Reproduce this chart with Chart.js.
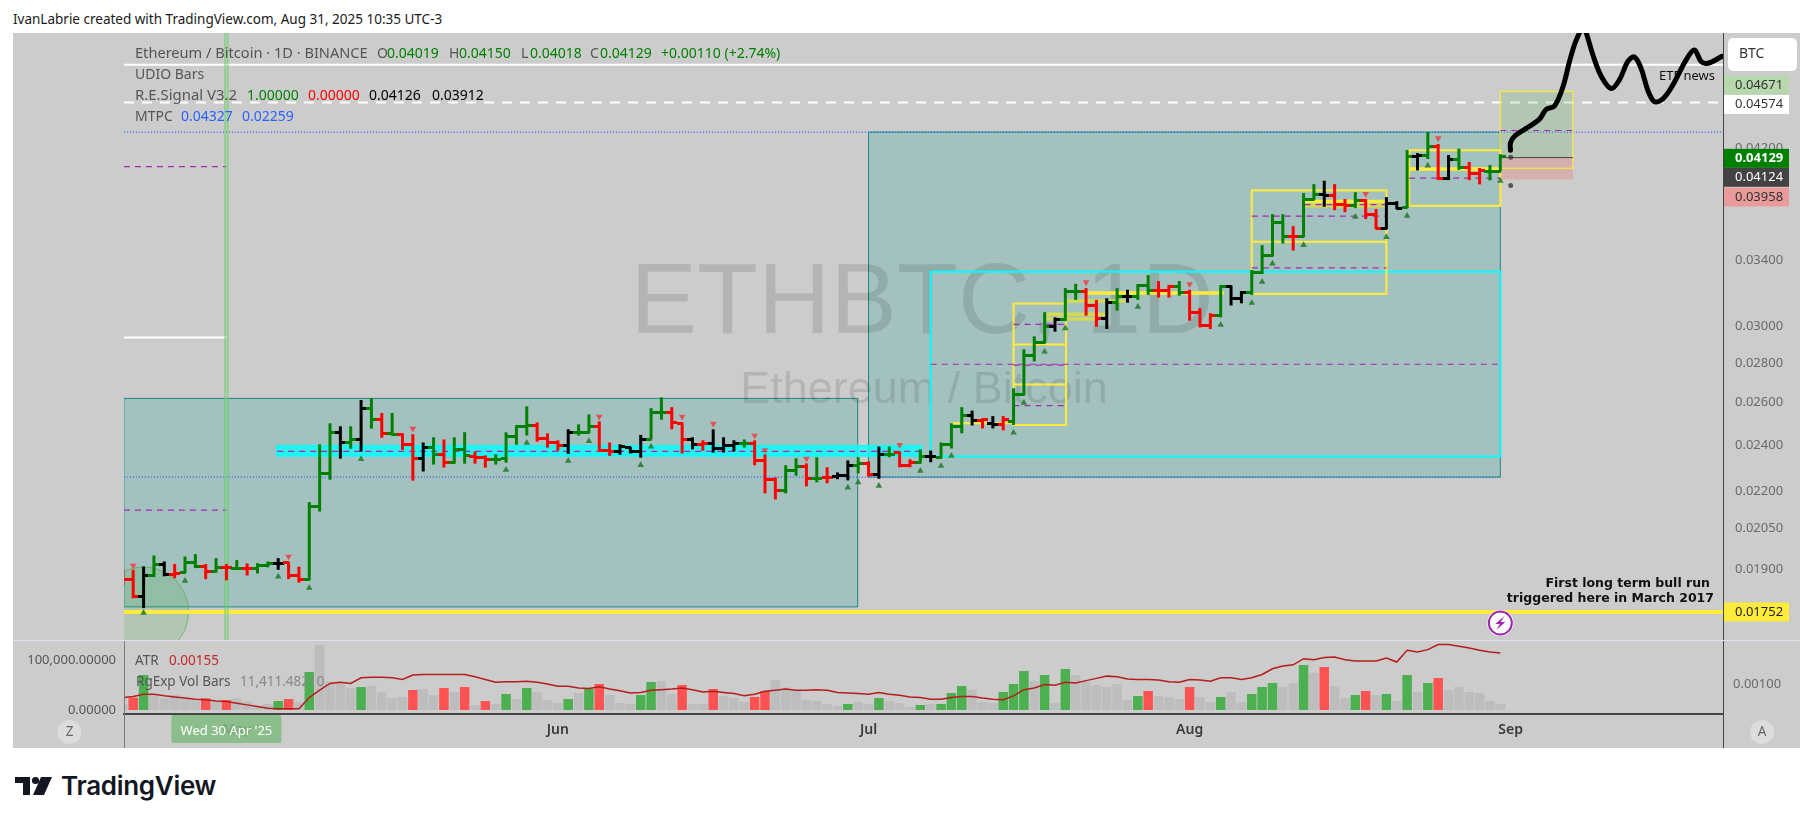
<!DOCTYPE html>
<html>
<head>
<meta charset="utf-8">
<title>ETHBTC 1D</title>
<script src="https://cdn.jsdelivr.net/npm/chart.js@4"></script>
<style>
  html, body { margin: 0; background: #fff; }
  body { position: relative; width: 1813px; height: 824px; overflow: hidden; font-family: "Noto Sans", sans-serif; }
  #caption { position: absolute; left: 13px; top: 10px; font-size: 13.5px; line-height: 18px; color: #1a1a1a; white-space: nowrap; }
  #frame { position: absolute; left: 13px; top: 33px; width: 1787px; height: 715px; background: #cccccc; }
  #priceChart { position: absolute; left: 13px; top: 33px; }
  #volChart { position: absolute; left: 13px; top: 640px; }
  #logo { position: absolute; left: 15px; top: 776px; }
  #brand { position: absolute; left: 61px; top: 770px; font-family: Inter, sans-serif; font-weight: 600; font-size: 26px; line-height: 32px; color: #131722; letter-spacing: -0.3px; }
</style>
</head>
<body>
<div id="caption">IvanLabrie created with TradingView.com, Aug 31, 2025 10:35 UTC-3</div>
<div id="frame"></div>
<canvas id="priceChart" width="1787" height="607"></canvas>
<canvas id="volChart" width="1787" height="108"></canvas>
<svg id="logo" width="38" height="20" viewBox="0 0 38 20"><path d="M0 1h15v18H8V7H0z" fill="#131722"/><circle cx="20.5" cy="4.5" r="3.6" fill="#131722"/><path d="M26 1h11l-8 18H18z" fill="#131722"/></svg>
<div id="brand">TradingView</div>

<script>
// daily bars, day 0 = Apr 20 2025
var barOpen = [
  .01874,.01862,.01804,.01877,.01915,.01881,.01888,.01922,.01909,.01892,
  .01905,.01903,.01903,.01900,.01911,.01919,.01922,.01875,.01864,.02136,
  .02275,.02459,.02411,.02425,.02572,.02518,.02453,.02449,.02400,.02340,
  .02389,.02359,.02323,.02380,.02349,.02345,.02336,.02340,.02440,.02486,
  .02490,.02430,.02411,.02398,.02458,.02458,.02486,.02375,.02371,.02388,
  .02371,.02425,.02552,.02552,.02500,.02425,.02403,.02407,.02384,.02398,
  .02407,.02407,.02331,.02250,.02204,.02288,.02305,.02252,.02258,.02262,
  .02266,.02309,.02318,.02271,.02358,.02366,.02309,.02323,.02349,.02345,
  .02403,.02486,.02537,.02514,.02500,.02495,.02510,.02640,.02838,.02912,
  .02999,.03041,.03202,.03202,.03119,.03047,.03136,.03172,.03172,.03241,
  .03213,.03213,.03237,.03196,.03080,.03005,.03062,.03237,.03160,.03196,
  .03322,.03431,.03652,.03556,.03556,.03814,.03845,.03838,.03773,.03766,
  .03807,.03707,.03611,.03785,.03757,.04129,.04137,.04208,.03966,.04113,
  .04044,.04006,.04019,.04019];
var barHigh = [
  .01897,.01897,.01909,.01949,.01927,.01918,.01945,.01954,.01918,.01939,
  .01918,.01932,.01920,.01921,.01927,.01939,.01924,.01908,.02155,.02403,
  .02500,.02486,.02486,.02612,.02620,.02549,.02549,.02453,.02449,.02411,
  .02435,.02425,.02435,.02458,.02371,.02353,.02358,.02458,.02490,.02581,
  .02504,.02453,.02421,.02472,.02495,.02542,.02509,.02411,.02403,.02392,
  .02446,.02572,.02625,.02577,.02504,.02435,.02421,.02472,.02435,.02421,
  .02425,.02421,.02358,.02258,.02310,.02340,.02318,.02345,.02301,.02279,
  .02331,.02345,.02327,.02393,.02393,.02371,.02336,.02380,.02375,.02411,
  .02500,.02577,.02560,.02523,.02534,.02534,.02670,.02874,.02945,.03082,
  .03052,.03225,.03251,.03225,.03154,.03164,.03225,.03215,.03249,.03305,
  .03268,.03245,.03268,.03215,.03105,.03076,.03243,.03241,.03207,.03337,
  .03497,.03707,.03707,.03624,.03857,.03923,.03948,.03923,.03814,.03864,
  .03814,.03743,.03828,.03799,.04183,.04160,.04328,.04231,.04144,.04194,
  .04090,.04044,.04067,.04150];
var barLow = [
  .01839,.01798,.01765,.01871,.01874,.01867,.01885,.01903,.01864,.01888,
  .01860,.01899,.01877,.01884,.01906,.01897,.01864,.01852,.01860,.02117,
  .02248,.02339,.02383,.02370,.02475,.02433,.02443,.02378,.02244,.02283,
  .02313,.02300,.02317,.02317,.02317,.02300,.02313,.02321,.02401,.02443,
  .02415,.02388,.02374,.02360,.02443,.02453,.02371,.02351,.02356,.02362,
  .02343,.02425,.02517,.02472,.02362,.02380,.02374,.02366,.02366,.02371,
  .02388,.02310,.02191,.02166,.02191,.02265,.02220,.02237,.02233,.02250,
  .02245,.02275,.02261,.02252,.02345,.02301,.02301,.02318,.02323,.02340,
  .02384,.02453,.02490,.02476,.02476,.02467,.02492,.02635,.02809,.02906,
  .02971,.03031,.03154,.03062,.02999,.02986,.03091,.03138,.03154,.03184,
  .03168,.03168,.03180,.03033,.02995,.02986,.03052,.03121,.03134,.03184,
  .03312,.03422,.03508,.03461,.03550,.03807,.03759,.03735,.03721,.03750,
  .03673,.03604,.03604,.03743,.03750,.04026,.04113,.03953,.03953,.04029,
  .03953,.03921,.03951,.04018];
var barClose = [
  .01862,.01804,.01877,.01915,.01881,.01885,.01922,.01909,.01892,.01905,
  .01905,.01903,.01900,.01911,.01919,.01919,.01875,.01864,.02136,.02275,
  .02459,.02411,.02425,.02572,.02518,.02453,.02449,.02400,.02340,.02389,
  .02359,.02323,.02380,.02353,.02345,.02336,.02336,.02440,.02486,.02490,
  .02430,.02411,.02398,.02458,.02458,.02486,.02375,.02371,.02392,.02371,
  .02425,.02552,.02552,.02504,.02425,.02403,.02407,.02384,.02398,.02407,
  .02407,.02331,.02250,.02204,.02288,.02305,.02252,.02252,.02258,.02266,
  .02309,.02318,.02271,.02358,.02358,.02309,.02323,.02349,.02349,.02403,
  .02486,.02537,.02514,.02518,.02495,.02518,.02640,.02838,.02912,.02999,
  .03041,.03202,.03202,.03119,.03047,.03136,.03172,.03172,.03241,.03213,
  .03213,.03237,.03196,.03080,.03005,.03062,.03237,.03160,.03196,.03322,
  .03431,.03652,.03556,.03556,.03814,.03845,.03838,.03773,.03766,.03807,
  .03707,.03611,.03785,.03750,.04129,.04137,.04208,.03966,.04113,.04044,
  .04006,.04026,.04019,.04129];
var barTone = ('rrkgkrggrg rgrggkrrgg gkgkgrgrrk grggrrgggg rrrkggrrkk kggrrkrkkk ' +
  'grrrggrgrk kgrkgrrgkg ggkrkrgggg kggrrkgkgg rrgrrrgkkg gggrggkrrg rrkkgkgrkg rrgg').replace(/ /g, '').split('');

var upMarkDays = [2,6,15,18,23,37,39,43,45,50,51,70,71,73,77,79,80,86,87,89,91,98,106,109,110,111,114,119,122,124,126,133];
var upMarkPrices = [.01749,.01858,.01873,.01834,.02337,.02290,.02410,.02329,.02418,.02311,.02392,.02215,.02237,.02222,.02286,.02307,.02351,.02456,.02598,.02861,.02990,.03113,.03009,.03136,.03263,.03377,.03497,.03688,.03550,.03696,.04062,.03948];
var downMarkDays = [1,16,28,46,54,57,61,62,66,75,93,103,120,127];
var downMarkPrices = [.01912,.01945,.02475,.02531,.02531,.02498,.02443,.02377,.02339,.02400,.03261,.03249,.03852,.04277];

// hand drawn projection after the last bar
var forecastDays = [133.98,133.98,134.37,135.34,136.78,137.43,138.23,139.04,139.68,140.16,140.64,140.97,141.29,141.93,142.74,143.70,144.51,145.31,145.95,146.60,147.24,147.88,148.69,149.65,150.94,151.74,152.39,153.03,154.42];
var forecastPrices = [.04181,.04239,.04293,.04349,.04434,.04516,.04545,.04710,.04943,.05101,.05217,.05281,.05217,.05006,.04807,.04697,.04776,.04943,.04985,.04877,.04682,.04582,.04606,.04727,.04958,.05051,.04943,.04926,.04991];

var signalDotDay = 134;
var signalDotPrices = [.04126,.03912];

// lower pane
var volumes = [
  12000,24700,70000,30000,23300,30000,23300,18700,23300,16700,
  20000,23300,16700,6700,12000,18000,22000,16700,76000,130000,
  56700,53400,43400,46000,48700,36700,24000,26000,40000,42000,
  30000,44000,36000,46000,10000,18000,12000,32000,22000,44000,
  36000,20000,14000,22000,34000,42000,52000,30000,14000,12000,
  30000,56000,58000,32000,50000,12000,12000,42000,28000,24000,
  16000,26000,38000,60000,45400,40000,20000,18000,12000,8000,
  12000,16000,12000,24000,18000,14000,6000,10000,12000,12000,
  34000,48000,40000,16000,14000,36000,52000,78000,58000,70000,
  14000,82000,70000,56000,50000,46000,52000,20000,28000,38000,
  28000,26000,22000,46000,26000,16000,26000,36000,16000,32000,
  46000,54000,46000,54000,90000,74000,86000,48000,24000,30000,
  38000,30000,32000,18000,70000,36000,54000,64000,40000,46000,
  36000,34000,18000,12000];
var volUpDays = [2,15,18,23,37,39,43,45,50,51,70,73,77,79,80,81,85,86,87,89,91,98,106,109,110,111,114,119,122,124,126];
var volDownDays = [1,8,10,16,28,31,33,35,46,54,57,61,62,99,103,116,120,127];
var atrValues = [
  .00076,.00078,.00082,.00082,.00079,.00077,.00075,.00073,.00072,.00070,
  .00069,.00066,.00063,.00060,.00057,.00056,.00056,.00056,.00076,.00089,
  .00101,.00103,.00101,.00111,.00112,.00112,.00111,.00108,.00116,.00117,
  .00117,.00117,.00117,.00117,.00113,.00108,.00103,.00104,.00104,.00105,
  .00103,.00100,.00096,.00096,.00093,.00092,.00095,.00091,.00088,.00084,
  .00085,.00089,.00090,.00091,.00093,.00090,.00086,.00087,.00085,.00083,
  .00079,.00082,.00087,.00089,.00091,.00089,.00089,.00090,.00089,.00085,
  .00084,.00083,.00082,.00085,.00082,.00080,.00077,.00076,.00073,.00073,
  .00076,.00078,.00078,.00075,.00073,.00072,.00079,.00090,.00093,.00099,
  .00098,.00103,.00102,.00106,.00110,.00114,.00113,.00109,.00108,.00108,
  .00107,.00104,.00103,.00108,.00107,.00105,.00111,.00111,.00108,.00111,
  .00117,.00127,.00132,.00134,.00145,.00143,.00147,.00148,.00143,.00141,
  .00141,.00141,.00146,.00139,.00160,.00157,.00161,.00170,.00170,.00167,
  .00164,.00160,.00157,.00155];

// axes
var priceTicks = [.042,.034,.030,.028,.026,.024,.022,.0205,.019];
var monthDays = [11,42,72,103,134];
var monthLabels = ['May','Jun','Jul','Aug','Sep'];
var volTicks = [0,100000];
var atrTicks = [.001];

// drawn objects, all as [day, day, price, price] or [day, day, price]
var tealBoxes = [[0.1,70.95,.0262,.01769],[72,133,.04327,.02259]];
var cyanBox = [78,133,.03326,.02349];
var cyanBand = [14.9,77.1,.02395,.02352];
var yellowBoxes = [[86,91.07,.03132,.02492],[109,122,.03877,.03190],[124.2,133,.04181,.03766]];
var yellowThin = [[86,91.07,.02900],[86,91.07,.02689],[109,122,.03519],[80,86,.02500]];
var yellowThick = [[93,106.3,.03196],[114.1,122,.03797],[124.2,133,.04036]];
var oliveBands = [[91.1,96.8,.03148],[89.2,94.9,.03070],[89.2,94.1,.03043],[114.1,122,.03766]];
var purpleDashes = [[0.1,10,.04055],[0.1,10,.02123],[14.9,77.1,.02371],[78,133,.02794],[86,91.07,.03012],[86,91.07,.02790],[86,91.07,.02585],
  [109,122,.03693],[109,122,.03350],[114.1,122,.03775],[124.2,133,.03968],[133,140,.04340]];
var blueDotted = [[0.1,154.5,.04327],[0.1,133,.02259]];
var whiteSolid = [[0.1,154.5,.04912],[0.1,10,.02938]];
var whiteDashed = [.04574];
var supportLine = .01752;
var positionDays = [133,140];
var positionPrices = {target: .04671, entry: .04124, stop: .03958};
var positionEdge = .04041;
var selectedDay = 10;
var circleAt = [2,.01752];
var eventAt = [133,.01716];

var badgeValues = ['0.04671','0.04574','0.04129','0.04124','0.03958','0.01752'];
var badgePrices = [.04671,.04574,.04129,.04124,.03958,.01752];

var uiFont = '"Noto Sans", sans-serif';
var GREEN = '#008000', RED = '#ff0000', BLACK = '#000000';

function rule(chart, x0, x1, price, color, width, dash) {
  var ctx = chart.ctx, sx = chart.scales.x, y = chart.scales.y.getPixelForValue(price);
  ctx.save();
  ctx.strokeStyle = color;
  ctx.lineWidth = width;
  ctx.setLineDash(dash || []);
  ctx.beginPath();
  ctx.moveTo(sx.getPixelForValue(x0), y);
  ctx.lineTo(sx.getPixelForValue(x1), y);
  ctx.stroke();
  ctx.restore();
}

function box(chart, b, fill, stroke, width) {
  var ctx = chart.ctx, sx = chart.scales.x, sy = chart.scales.y;
  var left = sx.getPixelForValue(b[0]), right = sx.getPixelForValue(b[1]);
  var top = sy.getPixelForValue(b[2]), bottom = sy.getPixelForValue(b[3]);
  if (fill) {
    ctx.fillStyle = fill;
    ctx.fillRect(left, top, right - left, bottom - top);
  }
  if (stroke) {
    ctx.strokeStyle = stroke;
    ctx.lineWidth = width;
    ctx.strokeRect(left, top, right - left, bottom - top);
  }
}

function text(ctx, str, x, y, color, font, align) {
  ctx.fillStyle = color;
  ctx.font = font;
  ctx.textAlign = align || 'left';
  ctx.textBaseline = 'middle';
  ctx.fillText(str, x, y);
}

// chart.js leaves room for half a tick label above and below, we do not want that
function noLabelPadding(s) {
  s.paddingTop = 0;
  s.paddingBottom = 0;
  s.paddingLeft = 0;
  s.paddingRight = 0;
}

// everything that sits under the bars
var paneDrawings = {
  id: 'paneDrawings',
  beforeDatasetsDraw: function(chart) {
    var ctx = chart.ctx, area = chart.chartArea, sx = chart.scales.x, sy = chart.scales.y;
    var maxDay = sx.max;
    ctx.save();
    ctx.beginPath();
    ctx.rect(area.left, area.top, area.width, area.height);
    ctx.clip();

    tealBoxes.forEach(function(b) { box(chart, b, 'rgba(0,150,136,0.2)', '#1b8a80', 1); });

    text(ctx, 'ETHBTC, 1D', 909, 272, 'rgba(0,0,0,0.115)', '100px "Liberation Sans"', 'center');
    text(ctx, 'Ethereum / Bitcoin', 911, 358, 'rgba(0,0,0,0.115)', '45px "Liberation Sans"', 'center');

    // circle marker on the support line
    ctx.beginPath();
    ctx.arc(sx.getPixelForValue(circleAt[0]), sy.getPixelForValue(circleAt[1]), 45, 0, Math.PI * 2);
    ctx.fillStyle = 'rgba(76,175,80,0.2)';
    ctx.fill();
    ctx.strokeStyle = 'rgba(76,175,80,0.7)';
    ctx.lineWidth = 1;
    ctx.stroke();

    box(chart, cyanBand, 'rgba(0,255,255,0.72)', '#00ffff', 2);
    box(chart, cyanBox, null, '#00ffff', 2);

    whiteSolid.forEach(function(l) { rule(chart, l[0], l[1], l[2], '#ffffff', 2); });
    whiteDashed.forEach(function(p) { rule(chart, 0.1, maxDay, p, '#ffffff', 2, [10, 8]); });
    blueDotted.forEach(function(l) { rule(chart, l[0], l[1], l[2], '#2962ff', 1.2, [1, 2]); });
    rule(chart, 0.1, maxDay, supportLine, '#ffeb3b', 4);

    // long position tool
    box(chart, [positionDays[0], positionDays[1], positionPrices.target, positionPrices.entry], 'rgba(76,175,80,0.2)');
    box(chart, [positionDays[0], positionDays[1], positionPrices.entry, positionPrices.stop], 'rgba(244,67,54,0.2)');
    box(chart, [positionDays[0], positionDays[1], positionPrices.target, positionEdge], null, 'rgba(255,235,59,0.8)', 1.5);
    rule(chart, positionDays[0], positionDays[1], positionPrices.entry, '#444444', 1);

    yellowBoxes.forEach(function(b) { box(chart, b, null, '#ffeb3b', 2); });
    yellowThin.forEach(function(l) { rule(chart, l[0], l[1], l[2], '#ffeb3b', 2); });
    oliveBands.forEach(function(l) { rule(chart, l[0], l[1], l[2], 'rgba(225,225,50,0.75)', 3.5); });
    yellowThick.forEach(function(l) { rule(chart, l[0], l[1], l[2], '#ffeb3b', 3.5); });
    purpleDashes.forEach(function(l) { rule(chart, l[0], l[1], l[2], '#a626b5', 1.2, [6, 5]); });

    // selected day highlight
    var hx = sx.getPixelForValue(selectedDay);
    ctx.fillStyle = 'rgba(120,225,120,0.45)';
    ctx.fillRect(hx - 2, area.top, 4, area.height);
    ctx.fillStyle = 'rgba(76,175,80,0.4)';
    ctx.fillRect(hx - 2, area.top, 1, area.height);
    ctx.fillRect(hx + 1, area.top, 1, area.height);

    text(ctx, 'ETF news', 1687 - 13, 76 - 33, '#111111', '13px ' + uiFont, 'center');
    ctx.restore();
  },
  afterDatasetsDraw: function(chart) {
    var ctx = chart.ctx, sx = chart.scales.x, sy = chart.scales.y, area = chart.chartArea;
    ctx.save();
    ctx.translate(-13, -33);  // the coordinates below are page coordinates

    // top left legend
    var small = '14px ' + uiFont, grey = '#555555';
    text(ctx, 'Ethereum / Bitcoin \u00b7 1D \u00b7 BINANCE', 135, 54, grey, '14.6px ' + uiFont);
    text(ctx, 'O', 377, 54, grey, small);
    text(ctx, '0.04019', 387, 54, GREEN, small);
    text(ctx, 'H', 449, 54, grey, small);
    text(ctx, '0.04150', 459, 54, GREEN, small);
    text(ctx, 'L', 521, 54, grey, small);
    text(ctx, '0.04018', 530, 54, GREEN, small);
    text(ctx, 'C', 590, 54, grey, small);
    text(ctx, '0.04129', 600, 54, GREEN, small);
    text(ctx, '+0.00110 (+2.74%)', 661, 54, GREEN, small);
    text(ctx, 'UDIO Bars', 135, 75, grey, small);
    text(ctx, 'R.E.Signal V3.2', 135, 96, grey, '14.9px ' + uiFont);
    text(ctx, '1.00000', 247, 96, GREEN, small);
    text(ctx, '0.00000', 308, 96, RED, small);
    text(ctx, '0.04126', 369, 96, BLACK, small);
    text(ctx, '0.03912', 432, 96, BLACK, small);
    text(ctx, 'MTPC', 135, 117, grey, small);
    text(ctx, '0.04327', 181, 117, '#2962ff', small);
    text(ctx, '0.02259', 242, 117, '#2962ff', small);

    // note over the support line
    var bold = 'bold 12.5px "DejaVu Sans"';
    text(ctx, 'First long term bull run', 1710, 584, '#111111', bold, 'right');
    text(ctx, 'triggered here in March 2017', 1714, 599, '#111111', bold, 'right');
    ctx.restore();

    // event badge
    var ex = sx.getPixelForValue(eventAt[0]), ey = sy.getPixelForValue(eventAt[1]);
    ctx.beginPath();
    ctx.arc(ex, ey, 13, 0, Math.PI * 2);
    ctx.fillStyle = '#ffffff';
    ctx.fill();
    ctx.beginPath();
    ctx.arc(ex, ey, 11.5, 0, Math.PI * 2);
    ctx.strokeStyle = '#9c27b0';
    ctx.lineWidth = 2;
    ctx.stroke();
    ctx.beginPath();
    ctx.moveTo(ex + 4, ey - 7);
    ctx.lineTo(ex - 5, ey + 1);
    ctx.lineTo(ex - 0.5, ey + 1);
    ctx.lineTo(ex - 4, ey + 7);
    ctx.lineTo(ex + 5, ey - 1);
    ctx.lineTo(ex + 0.5, ey - 1);
    ctx.closePath();
    ctx.fillStyle = '#9c27b0';
    ctx.fill();

    // price labels on the scale, pushed apart like the original scale does
    var fills = ['#b7d8ad', '#ffffff', '#008000', '#434343', '#e99b9b', '#ffeb3b'];
    var inks = ['#333333', '#333333', '#ffffff', '#ffffff', '#333333', '#222222'];
    var nudges = [-6.4, 1.8, 1.4, 19.7, 17.6, 0];
    badgePrices.forEach(function(p, i) {
      var y = sy.getPixelForValue(p) + nudges[i];
      ctx.fillStyle = fills[i];
      ctx.fillRect(area.right + 1, y - 9.5, 65, 19);
      text(ctx, badgeValues[i], area.right + 12, y, inks[i], (i === 2 ? 'bold ' : '') + '13px ' + uiFont);
    });

    // currency button
    ctx.fillStyle = '#ffffff';
    ctx.beginPath();
    ctx.roundRect(area.right + 5, 5, 69, 33, 5);
    ctx.fill();
    text(ctx, 'BTC', area.right + 16, 21, '#333333', '14px ' + uiFont);
  }
};

var volDecorations = {
  id: 'volDecorations',
  afterDraw: function(chart) {
    var ctx = chart.ctx, area = chart.chartArea, h = chart.height;
    // scale edges run through the date row
    ctx.fillStyle = '#7a7a7a';
    ctx.fillRect(area.left, 0, 1, h);
    ctx.fillStyle = '#444444';
    ctx.fillRect(area.right, 0, 1, h);
    ctx.fillStyle = '#e2e2f0';
    ctx.fillRect(0, 0, chart.width, 1);

    var sx = chart.scales.x, hx = sx.getPixelForValue(selectedDay);
    ctx.fillStyle = 'rgba(128,188,128,0.86)';
    ctx.beginPath();
    ctx.roundRect(hx - 55, 75, 110, 28, 2);
    ctx.fill();
    text(ctx, "Wed 30 Apr '25", hx, 91, '#ffffff', '13px ' + uiFont, 'center');

    var font = '13.5px ' + uiFont;
    text(ctx, 'ATR', 122, 21, '#555555', font);
    text(ctx, '0.00155', 156, 21, '#c62828', font);
    text(ctx, 'RgExp Vol Bars', 123, 42, '#555555', font);
    text(ctx, '11,411.48210', 227, 42, '#888888', font);

    ctx.fillStyle = '#dcdcdc';
    ctx.beginPath();
    ctx.arc(56.5, 92, 12, 0, Math.PI * 2);
    ctx.arc(1749, 92, 12, 0, Math.PI * 2);
    ctx.fill();
    text(ctx, 'Z', 56.5, 92, '#666666', font, 'center');
    text(ctx, 'A', 1749, 92, '#666666', font, 'center');
  }
};

// open and close ticks are small one sided point images
function tickImage(color, side) {
  var c = document.createElement('canvas');
  c.width = 11;
  c.height = 3;
  var g = c.getContext('2d');
  g.fillStyle = color;
  if (side === 'left') g.fillRect(0, 0, 6, 3);
  else g.fillRect(5, 0, 6, 3);
  return c;
}

var tones = {g: GREEN, r: RED, k: BLACK};
var openTicks = {}, closeTicks = {};
Object.keys(tones).forEach(function(k) {
  openTicks[k] = tickImage(tones[k], 'left');
  closeTicks[k] = tickImage(tones[k], 'right');
});

var days = barClose.map(function(v, i) { return i; });

new Chart(document.getElementById('priceChart'), {
  type: 'bar',
  plugins: [paneDrawings],
  data: {
    datasets: [
      {
        type: 'bar', order: 4,
        data: days.map(function(d) { return {x: d, y: [barLow[d], barHigh[d]]}; }),
        backgroundColor: barTone.map(function(t) { return tones[t]; }),
        barThickness: 3, inflateAmount: 0, borderWidth: 0
      },
      {
        type: 'scatter', order: 3,
        data: days.map(function(d) { return {x: d, y: barOpen[d]}; }),
        pointStyle: function(c) { return openTicks[barTone[c.dataIndex]]; },
        pointRadius: 5
      },
      {
        type: 'scatter', order: 3,
        data: days.map(function(d) { return {x: d, y: barClose[d]}; }),
        pointStyle: function(c) { return closeTicks[barTone[c.dataIndex]]; },
        pointRadius: 5
      },
      {
        type: 'scatter', order: 2,
        data: upMarkDays.map(function(d, i) { return {x: d, y: upMarkPrices[i]}; }),
        pointStyle: 'triangle', pointRadius: 3.8, pointBorderWidth: 0,
        pointBackgroundColor: 'rgba(40,125,50,0.9)'
      },
      {
        type: 'scatter', order: 2,
        data: downMarkDays.map(function(d, i) { return {x: d, y: downMarkPrices[i]}; }),
        pointStyle: 'triangle', pointRotation: 180, pointRadius: 3.8, pointBorderWidth: 0,
        pointBackgroundColor: 'rgba(239,60,60,0.85)'
      },
      {
        type: 'line', order: 0,
        data: forecastDays.map(function(d, i) { return {x: d, y: forecastPrices[i]}; }),
        borderColor: '#000000', borderWidth: 5, borderCapStyle: 'round', borderJoinStyle: 'round',
        tension: 0.35, pointRadius: 0, fill: false
      },
      {
        type: 'scatter', order: 1,
        data: signalDotPrices.map(function(p) { return {x: signalDotDay, y: p}; }),
        pointRadius: 2.5, pointBorderWidth: 0, pointBackgroundColor: 'rgba(60,60,60,0.8)'
      }
    ]
  },
  options: {
    responsive: false,
    animation: false,
    events: [],
    layout: {autoPadding: false, padding: {left: 111, right: 0, top: 0, bottom: 0}},
    plugins: {legend: {display: false}, tooltip: {enabled: false}},
    scales: {
      x: {type: 'linear', display: false, offset: false, min: 0.11, max: 154.5, grid: {display: false}},
      y: {
        type: 'logarithmic', position: 'right', min: .01662, max: .05215, bounds: 'data',
        afterFit: function(s) { s.width = 77; noLabelPadding(s); },
        afterBuildTicks: function(s) { s.ticks = priceTicks.map(function(v) { return {value: v}; }); },
        grid: {display: false, drawTicks: false},
        border: {color: '#444444'},
        ticks: {
          autoSkip: false, padding: 12, color: '#6a6a6a',
          font: {family: uiFont, size: 13},
          callback: function(v) { return Number(v).toFixed(5); }
        }
      }
    }
  }
});

new Chart(document.getElementById('volChart'), {
  type: 'bar',
  plugins: [volDecorations],
  data: {
    datasets: [
      {
        type: 'bar', order: 2, yAxisID: 'yVol',
        data: days.map(function(d) { return {x: d, y: volumes[d]}; }),
        backgroundColor: days.map(function(d) {
          if (volUpDays.indexOf(d) >= 0) return '#4caf50';
          if (volDownDays.indexOf(d) >= 0) return '#ff5252';
          return '#bdbdbd';
        }),
        barThickness: 9.5, inflateAmount: 0, borderWidth: 0
      },
      {
        type: 'line', order: 1, yAxisID: 'yAtr',
        data: days.map(function(d) { return {x: d, y: atrValues[d]}; }),
        borderColor: '#b71c1c', borderWidth: 1.5, pointRadius: 0, tension: 0, fill: false
      }
    ]
  },
  options: {
    responsive: false,
    animation: false,
    events: [],
    layout: {autoPadding: false, padding: 0},
    plugins: {legend: {display: false}, tooltip: {enabled: false}},
    scales: {
      x: {
        type: 'linear', offset: false, min: 0.11, max: 154.5,
        afterFit: function(s) { s.height = 34; noLabelPadding(s); },
        afterBuildTicks: function(s) { s.ticks = monthDays.map(function(v) { return {value: v}; }); },
        grid: {display: false, drawTicks: false},
        border: {color: '#444444', width: 2},
        ticks: {
          autoSkip: false, maxRotation: 0, padding: 8, color: '#3a3a3a',
          font: {family: uiFont, size: 14, weight: '600'},
          callback: function(v) { return monthLabels[monthDays.indexOf(v)]; }
        }
      },
      yVol: {
        type: 'linear', position: 'left', min: -8000, max: 140000,
        afterFit: function(s) { s.width = 111; noLabelPadding(s); },
        afterBuildTicks: function(s) { s.ticks = volTicks.map(function(v) { return {value: v}; }); },
        grid: {display: false, drawTicks: false},
        border: {display: false},
        ticks: {
          autoSkip: false, padding: 8, color: '#555555',
          font: {family: uiFont, size: 13},
          callback: function(v) { return v.toLocaleString('en-US', {minimumFractionDigits: 5}); }
        }
      },
      yAtr: {
        type: 'linear', position: 'right', min: .000468, max: .001781,
        afterFit: function(s) { s.width = 77; noLabelPadding(s); },
        afterBuildTicks: function(s) { s.ticks = atrTicks.map(function(v) { return {value: v}; }); },
        grid: {display: false, drawTicks: false},
        border: {display: false},
        ticks: {
          autoSkip: false, padding: 10, color: '#6a6a6a',
          font: {family: uiFont, size: 13},
          callback: function(v) { return Number(v).toFixed(5); }
        }
      }
    }
  }
});
</script>
</body>
</html>
